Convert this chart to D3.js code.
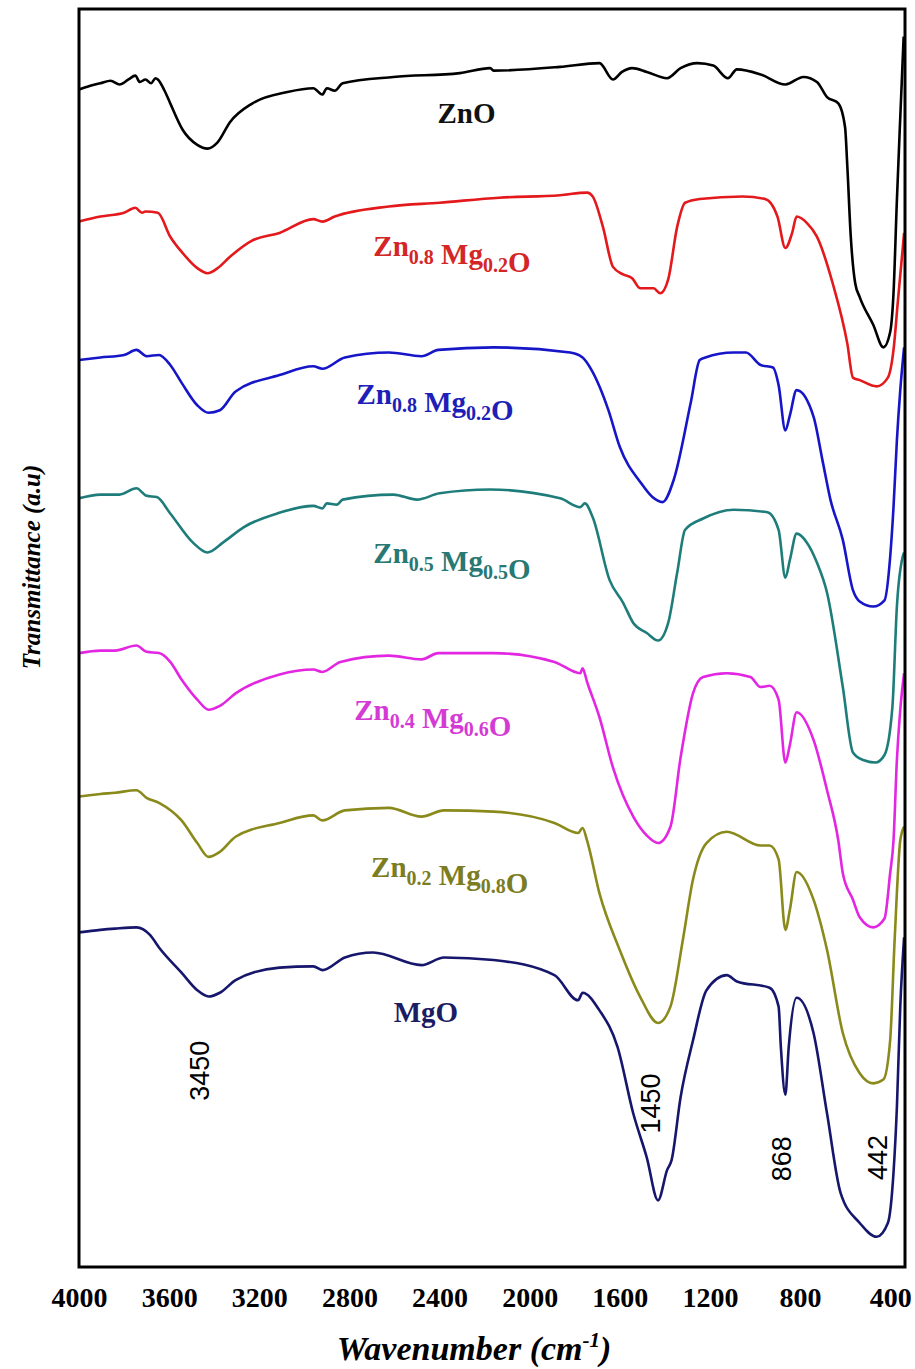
<!DOCTYPE html>
<html>
<head>
<meta charset="utf-8">
<script src="https://cdn.jsdelivr.net/npm/d3@7"></script>
<style>
  body { margin: 0; background: #fff; }
  svg { display: block; }
</style>
</head>
<body>
<div id="chart"></div>
<script>
// spectra: [wavenumber cm-1, transmittance a.u.]
const znO = [[4000,93.6],[3950,93.9],[3905,94.1],[3860,94.3],[3820,94.0],[3780,94.4],[3750,94.7],[3730,94.2],[3705,94.4],[3680,94.1],[3660,94.5],[3650,94.4],
  [3620,93.5],[3595,92.5],[3540,90.4],[3475,89.2],[3430,88.9],[3385,89.4],[3330,91.0],[3230,92.5],[3075,93.4],[2960,93.7],[2920,93.2],[2900,93.7],[2865,93.5],[2830,94.1],
  [2605,94.6],[2310,94.9],[2175,95.3],[2160,95.1],[1865,95.4],[1690,95.7],[1630,94.4],[1590,95.0],[1545,95.3],[1480,95.0],[1390,94.5],[1330,95.3],[1255,95.7],[1185,95.5],
  [1120,94.5],[1080,95.2],[975,94.8],[865,94.0],[785,94.6],[725,94.2],[680,93.0],[630,92.5],[600,90.6],[590,87.5],[575,82.0],[555,78.2],[535,77.1],[475,74.9],[430,73.1],
  [400,74.3],[385,77.4],[370,84.8],[355,91.4],[340,97.8]];

const zn08a = [[4000,83.1],[3905,83.5],[3800,83.8],[3750,84.2],[3720,83.8],[3705,83.9],[3650,83.8],[3595,81.9],[3540,80.6],[3475,79.4],[3430,79.0],[3385,79.4],[3330,80.3],
  [3230,81.6],[3110,82.2],[2960,83.3],[2920,83.1],[2865,83.5],[2625,84.3],[2400,84.6],[2135,85.0],[1865,85.2],[1745,85.4],[1720,85.1],[1675,82.7],[1630,79.5],[1585,78.9],
  [1545,78.6],[1510,77.8],[1450,77.8],[1420,77.4],[1385,78.5],[1345,82.7],[1310,84.6],[1245,84.9],[1055,85.1],[955,84.9],[900,83.5],[865,81.0],[835,82.2],[815,83.5],
  [770,83.0],[725,81.9],[655,78.2],[590,73.4],[565,70.7],[535,70.5],[460,70.0],[410,70.7],[385,72.9],[365,76.9],[345,80.8],[338,82.2]];

const zn08b = [[4000,72.1],[3905,72.3],[3800,72.5],[3745,72.9],[3700,72.4],[3645,72.5],[3595,71.7],[3545,70.3],[3475,68.5],[3425,67.9],[3375,68.1],[3305,69.6],[3110,70.9],
  [2960,71.6],[2920,71.4],[2820,72.3],[2625,72.7],[2480,72.4],[2405,72.9],[2160,73.1],[1820,72.7],[1765,72.3],[1725,71.3],[1690,70.0],[1650,68.1],[1600,65.2],[1505,62.3],
  [1455,61.2],[1410,60.8],[1360,62.6],[1285,68.7],[1245,72.1],[1220,72.3],[1095,72.7],[1040,72.7],[975,71.7],[920,71.5],[895,70.1],[865,66.5],[845,67.7],[815,69.7],
  [740,67.6],[700,64.1],[665,61.0],[610,57.8],[565,53.8],[535,52.9],[475,52.5],[425,53.0],[400,56.4],[385,60.4],[370,65.7],[355,69.7],[338,73.1]];

const zn05 = [[4000,61.1],[3905,61.4],[3820,61.4],[3745,61.9],[3700,61.3],[3655,61.2],[3595,59.9],[3495,57.6],[3430,56.8],[3360,57.6],[3270,58.8],[3120,59.9],[2960,60.5],
  [2920,60.3],[2900,60.7],[2855,60.6],[2830,61.0],[2605,61.4],[2500,61.0],[2400,61.5],[2175,61.8],[1865,61.1],[1775,60.4],[1755,60.7],[1720,59.6],[1645,54.6],[1585,52.8],
  [1540,51.2],[1480,50.4],[1430,49.8],[1385,51.2],[1345,55.2],[1310,58.6],[1230,59.5],[1095,60.2],[945,60.0],[895,58.6],[865,54.8],[845,56.2],[815,58.3],[770,57.6],
  [725,56.0],[680,53.6],[610,46.1],[565,40.9],[520,40.3],[465,40.1],[425,40.7],[390,44.5],[370,52.5],[345,56.4],[338,56.8]];

const zn04 = [[4000,48.8],[3905,49.0],[3840,49.0],[3745,49.4],[3700,48.9],[3645,48.8],[3595,48.1],[3545,46.7],[3475,45.1],[3425,44.3],[3375,44.6],[3305,45.6],[3110,47.1],
  [2960,47.5],[2920,47.3],[2840,48.1],[2625,48.6],[2480,48.3],[2405,48.8],[2160,48.8],[1890,48.1],[1775,47.2],[1765,47.6],[1745,46.5],[1690,43.7],[1630,39.7],[1540,35.8],
  [1480,34.3],[1430,33.7],[1375,35.0],[1330,40.5],[1275,45.6],[1230,46.9],[1125,47.2],[1020,46.9],[975,46.1],[935,46.2],[895,45.1],[865,40.1],[845,41.5],[815,44.1],
  [740,41.9],[680,37.9],[630,33.9],[610,31.3],[565,29.2],[535,27.8],[475,27.0],[425,27.7],[400,31.3],[385,33.9],[370,40.3],[355,44.3],[338,47.2]];

const zn02 = [[4000,37.4],[3905,37.6],[3840,37.7],[3745,37.9],[3700,37.3],[3645,36.9],[3545,35.5],[3475,33.7],[3425,32.6],[3375,33.0],[3305,34.2],[3110,35.3],[2960,35.9],
  [2920,35.5],[2820,36.3],[2625,36.5],[2480,35.8],[2380,36.3],[2160,36.2],[1890,35.3],[1785,34.5],[1765,34.9],[1745,33.9],[1690,29.7],[1600,25.2],[1510,21.5],[1430,19.4],
  [1375,20.7],[1320,26.0],[1275,30.8],[1215,33.7],[1125,34.6],[975,33.5],[935,33.5],[895,32.4],[865,26.8],[845,28.4],[815,31.4],[740,29.2],[680,25.2],[610,18.6],
  [535,15.4],[475,14.6],[430,14.9],[400,18.0],[380,26.0],[355,33.9],[338,35.0]];

const mgO = [[4000,26.6],[3905,26.8],[3840,26.9],[3745,27.0],[3685,26.4],[3645,25.4],[3545,23.4],[3475,22.0],[3425,21.5],[3375,21.8],[3305,22.8],[3110,23.8],[2960,23.9],
  [2920,23.6],[2820,24.6],[2695,25.0],[2480,24.0],[2380,24.6],[2160,24.4],[1890,23.2],[1785,21.2],[1765,21.8],[1690,20.4],[1610,17.5],[1540,12.2],[1480,8.7],[1430,5.3],
  [1390,7.7],[1370,8.5],[1330,13.5],[1275,18.0],[1215,22.0],[1125,23.2],[1080,22.7],[935,22.2],[895,20.7],[885,17.5],[865,13.7],[850,17.5],[815,21.4],[740,18.6],
  [680,12.2],[620,5.9],[535,3.5],[460,2.4],[410,3.5],[385,7.5],[370,12.7],[355,20.7],[338,26.2]];

const spectra = [znO, zn08a, zn08b, zn05, zn04, zn02, mgO];
const lineColors = ["#000000", "#e3191c", "#1616c8", "#1e7d7a", "#e226e2", "#8a8a1c", "#16166c"];
const labelColors = ["#111111", "#d42626", "#1e1eb8", "#287873", "#d43ad4", "#7c7c22", "#1c1c64"];
// label parts: [main, subscript] pairs
const sampleNames = [
  [["ZnO", ""]],
  [["Zn", "0.8"], [" Mg", "0.2"], ["O", ""]],
  [["Zn", "0.8"], [" Mg", "0.2"], ["O", ""]],
  [["Zn", "0.5"], [" Mg", "0.5"], ["O", ""]],
  [["Zn", "0.4"], [" Mg", "0.6"], ["O", ""]],
  [["Zn", "0.2"], [" Mg", "0.8"], ["O", ""]],
  [["MgO", ""]]
];
const labelAt = [[2280, 90.9], [2345, 80.4], [2420, 68.6], [2345, 56.0], [2430, 43.5], [2355, 31.0], [2460, 19.5]];
const peakLabels = [3450, 1450, 868, 442];
const peakLabelT = [15.6, 13.0, 8.6, 8.7];
const xTicks = [4000, 3600, 3200, 2800, 2400, 2000, 1600, 1200, 800, 400];

const width = 915, height = 1369;
const x = d3.scaleLinear().domain([4000, 334]).range([79, 905]);
const y = d3.scaleLinear().domain([0, 100]).range([1267, 9]);

const svg = d3.select("#chart").append("svg")
    .attr("width", width)
    .attr("height", height);

const serif = "'Liberation Serif', 'Times New Roman', serif";

// curves
const line = d3.line()
    .x(d => x(d[0]))
    .y(d => y(d[1]))
    .curve(d3.curveMonotoneX);

svg.append("g").selectAll("path")
    .data(spectra)
    .enter().append("path")
    .attr("d", line)
    .attr("fill", "none")
    .attr("stroke", (d, i) => lineColors[i])
    .attr("stroke-width", 2.6)
    .attr("stroke-linejoin", "round");

// frame
svg.append("rect")
    .attr("x", x.range()[0])
    .attr("y", y.range()[1])
    .attr("width", x.range()[1] - x.range()[0])
    .attr("height", y.range()[0] - y.range()[1])
    .attr("fill", "none")
    .attr("stroke", "#000")
    .attr("stroke-width", 3);

// x axis
const xAxis = svg.append("g")
    .attr("transform", `translate(0,${y.range()[0]})`)
    .attr("font-family", serif)
    .call(d3.axisBottom(x).tickValues(xTicks).tickSize(0).tickPadding(20).tickFormat(d3.format("d")));
xAxis.attr("font-family", serif).attr("font-size", 28).attr("font-weight", "bold");
xAxis.select(".domain").remove();
xAxis.selectAll("text")
    .attr("fill", "#000")
    .style("font-family", serif)
    .style("font-weight", "bold")
    .style("font-size", "28px");

// axis titles
const xTitle = svg.append("text")
    .attr("x", 474)
    .attr("y", 1360)
    .attr("text-anchor", "middle")
    .style("font-family", serif)
    .style("font-weight", "bold")
    .style("font-style", "italic")
    .style("font-size", "34px");
xTitle.append("tspan").text("Wavenumber (cm");
xTitle.append("tspan").attr("dy", -13).style("font-size", "21px").text("-1");
xTitle.append("tspan").attr("dy", 13).text(")");

svg.append("text")
    .attr("transform", "translate(40,567) rotate(-90)")
    .attr("text-anchor", "middle")
    .style("font-family", serif)
    .style("font-weight", "bold")
    .style("font-style", "italic")
    .style("font-size", "25px")
    .text("Transmittance (a.u)");

// sample labels
sampleNames.forEach((parts, i) => {
    const t = svg.append("text")
        .attr("x", x(labelAt[i][0]))
        .attr("y", y(labelAt[i][1]))
        .attr("text-anchor", "middle")
        .attr("fill", labelColors[i])
        .style("font-family", serif)
        .style("font-weight", "bold")
        .style("font-size", "29px");
    parts.forEach(p => {
        t.append("tspan").text(p[0]);
        if (p[1]) {
            t.append("tspan").attr("dy", 8).style("font-size", "20px").text(p[1]);
            t.append("tspan").attr("dy", -8).text("");
        }
    });
});

// peak position labels
svg.append("g").selectAll("text")
    .data(peakLabels)
    .enter().append("text")
    .attr("transform", (d, i) => `translate(${x(d) - 3},${y(peakLabelT[i])}) rotate(-90)`)
    .attr("text-anchor", "middle")
    .attr("dominant-baseline", "central")
    .style("font-family", "'Liberation Sans', Arial, sans-serif")
    .style("font-size", "27px")
    .attr("fill", "#000")
    .text(d => d);
</script>
</body>
</html>
